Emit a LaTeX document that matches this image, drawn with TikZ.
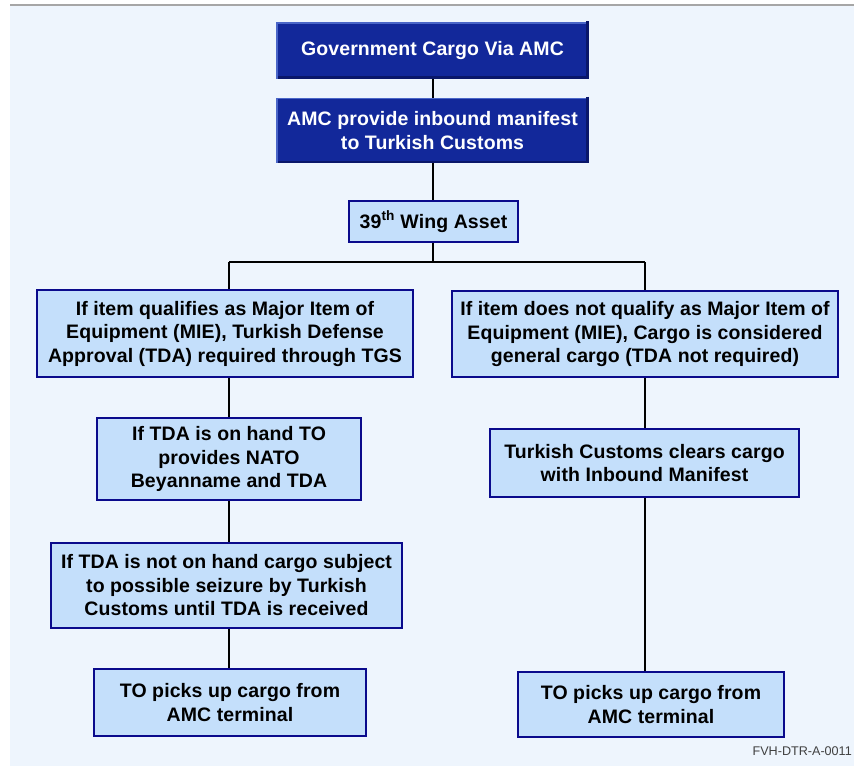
\documentclass[tikz,border=0pt]{standalone}
\usepackage{fontspec}
\setmainfont{Liberation Sans}
\newfontfamily\boxfont{Liberation Sans}[LetterSpace=0.5]
\begin{document}
\begin{tikzpicture}[x=1pt,y=-1pt,
  txt/.style={font=\boxfont\fontsize{19.5}{23.5}\selectfont\bfseries, align=center, inner sep=0pt},
  darkbox/.style={txt, rectangle, fill=dkblue, text=white, draw=bevlight, line width=1.2pt},
  lightbox/.style={txt, rectangle, fill=ltfill, draw=navy, line width=2.6pt, text=black},
  conn/.style={draw=black, line width=1.6pt}]
\definecolor{dkblue}{HTML}{12289A}
\definecolor{bevlight}{HTML}{4A66C8}
\definecolor{bevdark}{HTML}{0A176A}
\definecolor{ltfill}{HTML}{C4DFFB}
\definecolor{navy}{HTML}{0A0A8C}
\definecolor{panel}{HTML}{EEF5FD}
\useasboundingbox (0,0) rectangle (854,766);
\fill[white] (0,0) rectangle (854,766);
\fill[panel] (10,5) rectangle (854,766);
\draw[gray!70, line width=1.5pt] (10,5) -- (854,5);

% nodes
\node[darkbox, minimum width=311pt, minimum height=55pt] (b1) at (432.5,50.5) {Government Cargo Via AMC};
\node[darkbox, minimum width=311pt, minimum height=64pt] (b2) at (432.5,130.5) {AMC provide inbound manifest\\to Turkish Customs};
\node[lightbox, minimum width=169pt, minimum height=41pt] (b3) at (433.5,221.5) {39\textsuperscript{th} Wing Asset};
\node[lightbox, minimum width=376pt, minimum height=87pt] (b4) at (225,333.5) {If item qualifies as Major Item of\\Equipment (MIE), Turkish Defense\\Approval (TDA) required through TGS};
\node[lightbox, minimum width=386pt, minimum height=86pt] (b5) at (645,334) {If item does not qualify as Major Item of\\Equipment (MIE), Cargo is considered\\general cargo (TDA not required)};
\node[lightbox, minimum width=264pt, minimum height=82pt] (b6) at (229,459) {If TDA is on hand TO\\provides NATO\\Beyanname and TDA};
\node[lightbox, minimum width=309pt, minimum height=68pt] (b7) at (644.5,463) {Turkish Customs clears cargo\\with Inbound Manifest};
\node[lightbox, minimum width=351pt, minimum height=85pt] (b8) at (226.5,585.5) {If TDA is not on hand cargo subject\\to possible seizure by Turkish\\Customs until TDA is received};
\node[lightbox, minimum width=272pt, minimum height=67pt] (b9) at (230,702.5) {TO picks up cargo from\\AMC terminal};
\node[lightbox, minimum width=266pt, minimum height=65pt] (b10) at (651,704.5) {TO picks up cargo from\\AMC terminal};
\node[font=\fontsize{12.6}{14}\selectfont, text=black!75, anchor=east, inner sep=0pt] (lbl) at (852,751) {FVH-DTR-A-0011};

% bevel shading on dark boxes
\foreach \b in {b1,b2}{
  \draw[bevdark, line width=2.4pt] ([shift={(-1.2,-1.2)}]\b.north east) -- ([shift={(-1.2,-1.2)}]\b.south east) -- ([shift={(1.2,-1.2)}]\b.south west);
}

% connectors
\coordinate (J) at (433,262);
\coordinate (L) at (229,262);
\coordinate (R) at (645,262);
\draw[conn] (b1.south -| J) -- (b2.north -| J);
\draw[conn] (b2.south -| J) -- (b3.north -| J);
\draw[conn] (b3.south -| J) -- (J);
\draw[conn] (L) -- (R);
\draw[conn] (L) -- (b4.north -| L);
\draw[conn] (b4.south -| L) -- (b6.north -| L);
\draw[conn] (b6.south -| L) -- (b8.north -| L);
\draw[conn] (b8.south -| L) -- (b9.north -| L);
\draw[conn] (R) -- (b5.north -| R);
\draw[conn] (b5.south -| R) -- (b7.north -| R);
\draw[conn] (b7.south -| R) -- (b10.north -| R);
\end{tikzpicture}
\end{document}
